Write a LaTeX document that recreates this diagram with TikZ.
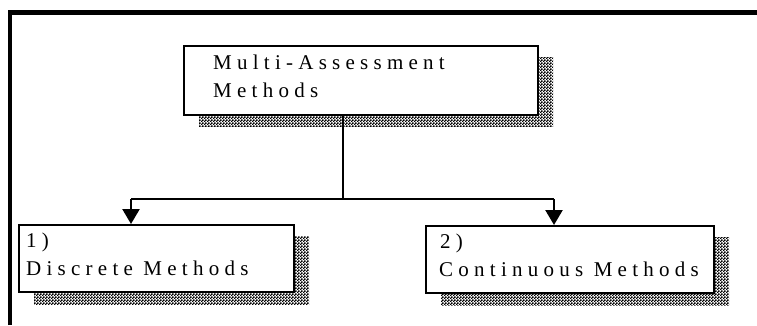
\documentclass[tikz,border=0pt]{standalone}
\usepackage{fontspec}
\newfontfamily\boxfont[LetterSpace=25]{Liberation Serif}
\usetikzlibrary{patterns,arrows.meta}

% fine checkerboard used for the drop shadows
\pgfdeclarepatternformonly{halftone}{\pgfpointorigin}{\pgfpoint{3pt}{3pt}}{\pgfpoint{3pt}{3pt}}{%
  \pgfpathrectangle{\pgfpointorigin}{\pgfpoint{1.9pt}{1.9pt}}%
  \pgfpathrectangle{\pgfpoint{1.5pt}{1.5pt}}{\pgfpoint{1.9pt}{1.9pt}}%
  \pgfusepath{fill}}

\tikzset{
  framebox/.style={draw=black, line width=2.2pt, fill=white, rectangle,
    inner sep=0pt, anchor=north west},
  shadowbox/.style={pattern=halftone, pattern color=black},
  boxtext/.style={font=\boxfont\fontsize{21}{28}\selectfont, inner sep=0pt,
    anchor=base west},
  conn/.style={line width=2.4pt, draw=black},
  arr/.style={conn, -{Triangle[width=17pt,length=15pt]}},
}

\begin{document}
\begin{tikzpicture}[x=1pt, y=-1pt]
  \useasboundingbox (0,0) rectangle (757,325);

  % outer frame (top and left edges only)
  \draw[line width=4.4pt] (10,325) -- (10,12.5) -- (757,12.5);

  % shadows
  \fill[shadowbox] (199,57) rectangle (553,126);
  \fill[shadowbox] (34,236) rectangle (309,304);
  \fill[shadowbox] (441,237) rectangle (729,305);

  % boxes
  \node[framebox, minimum width=354pt, minimum height=69pt] (top) at (183,45) {};
  \node[framebox, minimum width=275pt, minimum height=67pt] (disc) at (18,224) {};
  \node[framebox, minimum width=288pt, minimum height=67pt] (cont) at (425,225) {};

  % labels
  \node[boxtext] (t1) at (213,69) {Multi-Assessment};
  \node[boxtext] (t2) at (213,97) {Methods};
  \node[boxtext] (d1) at (26,247) {1)};
  \node[boxtext] (d2) at (26,275) {Discrete Methods};
  \node[boxtext] (c1) at (440,248) {2)};
  \node[boxtext] (c2) at (439,276) {Continuous Methods};

  % connectors
  \coordinate (split) at (343,199);
  \coordinate (lj) at (131,199);
  \coordinate (rj) at (554,199);
  \draw[conn] (top.south -| split) -- (split);
  \draw[conn] (lj) -- (rj);
  \draw[arr] (lj) -- (lj |- disc.north);
  \draw[arr] (rj) -- (rj |- cont.north);
\end{tikzpicture}
\end{document}
